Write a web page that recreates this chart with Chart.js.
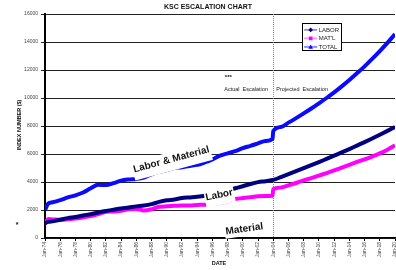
<!DOCTYPE html>
<html>
<head>
<meta charset="utf-8">
<script src="https://cdn.jsdelivr.net/npm/chart.js@4"></script>
<style>
  body { margin: 0; background: #fff; }
  #wrap { width: 396px; height: 270px; }
</style>
</head>
<body>
<div id="wrap"><canvas id="myChart"></canvas></div>
<script>
// x values: year (Jan = whole year), two extra points for the steps
const years = [1974, 1974.4, 1975, 1976, 1977, 1978, 1979, 1980, 1981, 1982, 1983, 1984, 1985, 1986, 1987, 1988, 1989,
  1990, 1991, 1992, 1993, 1994, 1995, 1996, 1997, 1998, 1999, 2000, 2001, 2002, 2003, 2003.9,
  2004, 2005, 2006, 2007, 2008, 2009, 2010, 2011, 2012, 2013, 2014, 2015, 2016, 2017, 2018, 2019, 2020];

const labor = [1050, 1150, 1200, 1300, 1420, 1500, 1610, 1700, 1820, 1930, 2020, 2110, 2180, 2260, 2320, 2420, 2580,
  2690, 2750, 2850, 2900, 2950, 3020, 3130, 3250, 3400, 3550, 3700, 3860, 3990, 4060, 4140,
  4150, 4350, 4560, 4770, 4990, 5200, 5420, 5650, 5880, 6110, 6350, 6600, 6850, 7110, 7380, 7650, 7930];

const material = [1000, 1350, 1330, 1300, 1340, 1400, 1470, 1560, 1700, 1880, 1900, 1950, 2050, 2080, 1960, 2050, 2230,
  2260, 2300, 2320, 2330, 2360, 2380, 2430, 2500, 2620, 2780, 2850, 2920, 2980, 3000, 3020,
  3480, 3600, 3760, 3930, 4110, 4280, 4460, 4640, 4830, 5030, 5230, 5430, 5620, 5820, 6040, 6310, 6630];

const total = [2000, 2450, 2550, 2700, 2900, 3050, 3250, 3550, 3800, 3780, 3920, 4100, 4180, 4220, 4320, 4550, 4720,
  4860, 4990, 5060, 5150, 5220, 5400, 5620, 5880, 6050, 6200, 6420, 6580, 6760, 6930, 7070,
  7640, 7930, 8240, 8560, 8900, 9250, 9620, 10000, 10400, 10830, 11280, 11760, 12260, 12790, 13350, 13940, 14560];

const seriesNames = ['LABOR', "MAT'L", 'TOTAL'];
const seriesColors = ['#000080', '#ff00ff', '#0a0aff'];
const legendLine = ['#9a9ac8', '#f5a0f5', '#8c8cff'];
const markers = ['rectRot', 'rect', 'triangle'];
const splitYear = 2004;

const FONT = '"Liberation Sans", Arial, sans-serif';

function pts(arr) {
  return arr.map((v, i) => ({ x: years[i], y: v }));
}

function drawText(ctx, txt, x, y, opt) {
  ctx.save();
  ctx.translate(x, y);
  ctx.rotate((opt.angle || 0) * Math.PI / 180);
  ctx.font = (opt.bold ? 'bold ' : '') + opt.size + 'px ' + FONT;
  const w = ctx.measureText(txt).width;
  if (opt.box) {
    // white box behind the label, reaching a bit under the baseline
    ctx.fillStyle = '#fff';
    ctx.fillRect(-w / 2 - 1, -opt.size * 0.75, w + 2, opt.size * (0.75 + opt.below));
  }
  ctx.fillStyle = opt.color || '#111';
  ctx.textAlign = opt.align || 'center';
  ctx.textBaseline = 'middle';
  ctx.fillText(txt, 0, 0);
  ctx.restore();
}

function marker(ctx, style, x, y, r, color) {
  ctx.fillStyle = color;
  ctx.beginPath();
  if (style === 'rectRot') {
    ctx.moveTo(x, y - r); ctx.lineTo(x + r, y); ctx.lineTo(x, y + r); ctx.lineTo(x - r, y);
  } else if (style === 'rect') {
    ctx.rect(x - r * 0.8, y - r * 0.8, r * 1.6, r * 1.6);
  } else {
    ctx.moveTo(x, y - r); ctx.lineTo(x + r, y + r * 0.8); ctx.lineTo(x - r, y + r * 0.8);
  }
  ctx.closePath();
  ctx.fill();
}

const extras = {
  id: 'extras',
  beforeDatasetsDraw(chart) {
    const { ctx, chartArea: a, scales: { x } } = chart;
    const px = Math.round(x.getPixelForValue(splitYear)) + 0.5;
    ctx.save();
    ctx.strokeStyle = '#888';
    ctx.lineWidth = 1;
    ctx.setLineDash([1, 1]);
    ctx.beginPath();
    ctx.moveTo(px, a.top);
    ctx.lineTo(px, a.bottom);
    ctx.stroke();
    ctx.restore();
  },
  afterDatasetsDraw(chart) {
    const { ctx, chartArea: a, scales: { x, y } } = chart;
    // text labels on the lines (white box hides the line behind)
    drawText(ctx, 'Labor & Material', x.getPixelForValue(1990.6), y.getPixelForValue(5600), { size: 10, bold: true, angle: -15, box: true, below: 1.1 });
    drawText(ctx, 'Labor', x.getPixelForValue(1996.9), y.getPixelForValue(3070), { size: 10, bold: true, angle: -12, box: true, below: 1.0 });
    drawText(ctx, 'Material', x.getPixelForValue(2000.2), y.getPixelForValue(640), { size: 10, bold: true, angle: -8, box: true, below: 0.7 });
    drawText(ctx, '***', x.getPixelForValue(1998.1), y.getPixelForValue(11500), { size: 6, bold: true });
    drawText(ctx, 'Actual  Escalation', x.getPixelForValue(2003.3), y.getPixelForValue(10640), { size: 5.5, align: 'right', color: '#222' });
    drawText(ctx, 'Projected  Escalation', x.getPixelForValue(2004.4), y.getPixelForValue(10640), { size: 5.5, align: 'left', color: '#222' });

    // legend
    const lx = x.getPixelForValue(2007.8), ly = y.getPixelForValue(15330);
    const lw = 39, lh = 27;
    ctx.save();
    ctx.fillStyle = '#fff';
    ctx.fillRect(lx, ly, lw, lh);
    ctx.strokeStyle = '#000';
    ctx.lineWidth = 1;
    ctx.strokeRect(Math.round(lx) + 0.5, Math.round(ly) + 0.5, lw, lh);
    seriesNames.forEach((name, i) => {
      const ry = ly + 6.5 + i * 8.5;
      ctx.strokeStyle = legendLine[i];
      ctx.lineWidth = 2;
      ctx.beginPath();
      ctx.moveTo(lx + 2, ry);
      ctx.lineTo(lx + 15, ry);
      ctx.stroke();
      marker(ctx, markers[i], lx + 8.5, ry, 2.3, seriesColors[i]);
      drawText(ctx, name, lx + 16.5, ry, { size: 6, align: 'left', color: '#222' });
    });
    ctx.restore();
  },
  afterDraw(chart) {
    const { ctx, chartArea: a } = chart;
    drawText(ctx, 'KSC ESCALATION CHART', 208, 7, { size: 7, bold: true });
    drawText(ctx, 'DATE', (a.left + a.right) / 2 - 1, 263, { size: 5.5, bold: true });
    drawText(ctx, 'INDEX NUMBER ($)', 19, 125, { size: 5.5, bold: true, angle: -90 });
    drawText(ctx, '*', 17, 225, { size: 7, bold: true });
  }
};

const ctx = document.getElementById('myChart').getContext('2d');

const myChart = new Chart(ctx, {
  type: 'line',
  data: {
    datasets: [
      { label: 'LABOR', data: pts(labor), borderColor: seriesColors[0], borderWidth: 4, pointRadius: 0, cubicInterpolationMode: 'monotone', order: 2 },
      { label: "MAT'L", data: pts(material), borderColor: seriesColors[1], borderWidth: 4, pointRadius: 0, cubicInterpolationMode: 'monotone', order: 3 },
      { label: 'TOTAL', data: pts(total), borderColor: seriesColors[2], borderWidth: 4, pointRadius: 0, cubicInterpolationMode: 'monotone', order: 1 }
    ]
  },
  options: {
    responsive: true,
    maintainAspectRatio: false,
    animation: false,
    layout: { padding: { top: 14, right: 1, left: 0, bottom: 0 } },
    scales: {
      x: {
        type: 'linear',
        min: 1974,
        max: 2020,
        afterFit: s => { s.height = 32; s.paddingLeft = 0; s.paddingRight = 0; },
        ticks: {
          stepSize: 2,
          autoSkip: false,
          maxRotation: 90,
          minRotation: 90,
          padding: 1,
          color: '#444',
          font: { size: 5, family: FONT },
          callback: v => 'Jan-' + String(v % 100).padStart(2, '0')
        },
        grid: { drawOnChartArea: false, tickLength: 3, color: '#000' },
        border: { color: '#000', width: 1.5 }
      },
      y: {
        min: 0,
        max: 16000,
        afterFit: s => { s.width = 45; s.paddingTop = 0; s.paddingBottom = 0; },
        ticks: {
          stepSize: 2000,
          padding: 3,
          color: '#444',
          font: { size: 5, family: FONT },
          callback: v => String(v)
        },
        grid: { color: '#222', lineWidth: 1, tickLength: 4 },
        border: { color: '#000', width: 2 }
      }
    },
    plugins: {
      legend: { display: false },
      tooltip: { enabled: false }
    }
  },
  plugins: [extras]
});
</script>
</body>
</html>
